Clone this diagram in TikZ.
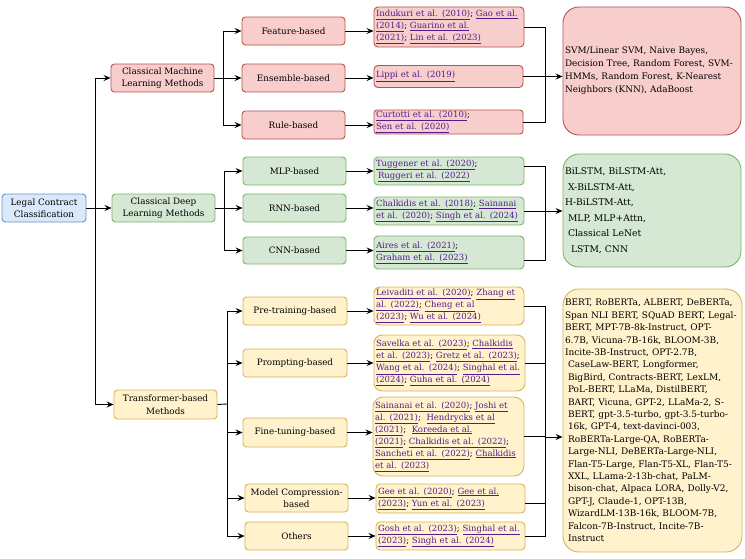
\documentclass[tikz,border=0pt]{standalone}
\usepackage{fontspec}
\setmainfont{DejaVu Serif}
\usetikzlibrary{arrows.meta}
\definecolor{redf}{HTML}{F8CECC}\definecolor{redd}{HTML}{B85450}
\definecolor{grnf}{HTML}{D5E8D4}\definecolor{grnd}{HTML}{82B366}
\definecolor{yelf}{HTML}{FFF2CC}\definecolor{yeld}{HTML}{D6B656}
\definecolor{bluf}{HTML}{DAE8FC}\definecolor{blud}{HTML}{6C8EBF}
\definecolor{linkc}{HTML}{551A8B}
\newcommand\lk[1]{\textcolor{linkc}{\underline{#1}}}
\newcommand\rl[1]{\mbox{#1}}
\begin{document}
\begin{tikzpicture}[x=1pt,y=-1pt,
  box/.style={draw, rounded corners=3.5pt, line width=0.9pt, align=center, inner sep=1pt,
    minimum width=103, minimum height=28, font=\fontsize{8.8}{12.5}\selectfont},
  redb/.style={box, fill=redf, draw=redd},
  grnb/.style={box, fill=grnf, draw=grnd},
  yelb/.style={box, fill=yelf, draw=yeld},
  blub/.style={box, fill=bluf, draw=blud},
  cite/.style={draw, rounded corners=4pt, line width=0.9pt, align=left, inner xsep=2pt, inner ysep=0pt,
    font=\fontsize{8.5}{12}\selectfont},
  bigb/.style={draw, rounded corners=16pt, line width=0.9pt, align=left, inner xsep=2pt, inner ysep=0pt,
    text width=174},
  lin/.style={line width=0.9pt},
  arr/.style={line width=0.9pt, -{Stealth[length=7pt,width=6pt,inset=2.5pt]}}]
\path[use as bounding box, fill=white] (0,0) rectangle (745,558);

% level 0 / 1
\node[blub, minimum width=84] (root) at (44,208) {Legal Contract\\Classification};
\node[redb] (ml) at (162.5,78) {Classical Machine\\Learning Methods};
\node[grnb] (dl) at (163.5,208) {Classical Deep\\Learning Methods};
\node[yelb, minimum height=29] (tf) at (165.5,404.5) {Transformer-based\\Methods};

% level 2
\node[redb] (feat) at (293.5,31) {Feature-based};
\node[redb] (ens) at (293.5,78) {Ensemble-based};
\node[redb] (rule) at (293.5,125) {Rule-based};
\node[grnb] (mlp) at (294.5,171) {MLP-based};
\node[grnb] (rnn) at (294.5,208) {RNN-based};
\node[grnb, minimum height=27] (cnn) at (294.5,250.5) {CNN-based};
\node[yelb, minimum width=104] (pre) at (295,311) {Pre-training-based};
\node[yelb, minimum width=104] (prm) at (295,363) {Prompting-based};
\node[yelb, minimum width=104, minimum height=29] (fine) at (295,432.5) {Fine-tuning-based};
\node[yelb] (comp) at (296.5,498) {Model Compression-\\based};
\node[yelb] (oth) at (296.5,536) {Others};

% citations
\node[cite, fill=redf, draw=redd, text width=146, minimum height=40] (featc) at (449,27)
  {\rl{\lk{Indukuri et al. (2010)}; \lk{Gao et al.}}\\\rl{\lk{(2014)}; \lk{Guarino et al.}}\\\rl{\lk{(2021)}; \lk{Lin et al. (2023)}}};
\node[cite, fill=redf, draw=redd, text width=145, minimum height=22] (ensc) at (448.5,76.5)
  {\rl{\lk{Lippi et al. (2019)}}};
\node[cite, fill=redf, draw=redd, text width=145, minimum height=24, rounded corners=3pt] (rulec) at (448.5,122)
  {\rl{\lk{Curtotti et al. (2010)};}\\\rl{\lk{Sen et al. (2020)}}};
\node[cite, fill=grnf, draw=grnd, text width=146, minimum height=28] (mlpc) at (449,171)
  {\rl{\lk{Tuggener et al. (2020)};}\\\rl{\hspace{2pt}\lk{Ruggeri et al. (2022)}}};
\node[cite, fill=grnf, draw=grnd, text width=146, minimum height=28] (rnnc) at (449,211)
  {\rl{\lk{Chalkidis et al. (2018)}; \lk{Sainanai}}\\\rl{\lk{et al. (2020)}; \lk{Singh et al. (2024)}}};
\node[cite, fill=grnf, draw=grnd, text width=146, minimum height=33] (cnnc) at (449,252.5)
  {\rl{\lk{Aires et al. (2021)};}\\\rl{\lk{Graham et al. (2023)}}};
\node[cite, fill=yelf, draw=yeld, text width=146, minimum height=38, rounded corners=6pt] (prec) at (449,306)
  {\rl{\lk{Leivaditi et al. (2020)}; \lk{Zhang et}}\\\rl{\lk{al. (2022)}; \lk{Cheng et al}}\\\rl{\lk{(2023)}; \lk{Wu et al. (2024)}}};
\node[cite, fill=yelf, draw=yeld, text width=147, minimum height=56, rounded corners=8pt] (prmc) at (449.5,363)
  {\rl{\lk{Savelka et al. (2023)}; \lk{Chalkidis}}\\\rl{\lk{et al. (2023)}; \lk{Gretz et al. (2023)};}\\\rl{\lk{Wang et al. (2024)}; \lk{Singhal et al.}}\\\rl{\lk{(2024)}; \lk{Guha et al. (2024)}}};
\node[cite, fill=yelf, draw=yeld, text width=147, minimum height=79, rounded corners=10pt] (finec) at (448.5,436.5)
  {\rl{\lk{Sainanai et al. (2020)}; \lk{Joshi et}}\\\rl{\lk{al. (2021)};\ \ \lk{Hendrycks et al}}\\\rl{\lk{(2021)};\ \ \lk{Koreeda et al.}}\\\rl{\lk{(2021)}; \lk{Chalkidis et al. (2022)};}\\\rl{\lk{Sancheti et al. (2022)}; \lk{Chalkidis}}\\\rl{\lk{et al. (2023)}}};
\node[cite, fill=yelf, draw=yeld, text width=145, minimum height=29] (compc) at (450.5,498.5)
  {\rl{\lk{Gee et al. (2020)}; \lk{Gee et al.}}\\\rl{\lk{(2023)}; \lk{Yun et al. (2023)}}};
\node[cite, fill=yelf, draw=yeld, text width=145, minimum height=28] (othc) at (450.5,536)
  {\rl{\lk{Gosh et al. (2023)}; \lk{Singhal et al.}}\\\rl{\lk{(2023)}; \lk{Singh et al. (2024)}}};

% method lists
\node[bigb, fill=redf, draw=redd, minimum height=128, font=\fontsize{8.9}{13}\selectfont] (mlr) at (652,71)
  {\rl{SVM/Linear SVM, Naive Bayes,}\\\rl{Decision Tree, Random Forest, SVM-}\\\rl{HMMs, Random Forest, K-Nearest}\\\rl{Neighbors (KNN), AdaBoost}};
\node[bigb, fill=grnf, draw=grnd, minimum height=113, font=\fontsize{9.2}{15.5}\selectfont] (dlr) at (652,210.5)
  {\rl{BiLSTM, BiLSTM-Att,}\\\rl{\hspace{3pt}X-BiLSTM-Att,}\\\rl{H-BiLSTM-Att,}\\\rl{\hspace{3pt}MLP, MLP+Attn,}\\\rl{\hspace{3pt}Classical LeNet}\\\rl{\hspace{6pt}LSTM, CNN}};
\node[bigb, fill=yelf, draw=yeld, minimum height=263, text width=175, font=\fontsize{9.0}{12.4}\selectfont] (tfr) at (652.5,420.5)
  {\rl{BERT, RoBERTa, ALBERT, DeBERTa,}\\\rl{Span NLI BERT, SQuAD BERT, Legal-}\\\rl{BERT, MPT-7B-8k-Instruct, OPT-}\\\rl{6.7B, Vicuna-7B-16k, BLOOM-3B,}\\\rl{Incite-3B-Instruct, OPT-2.7B,}\\
   \rl{\hspace{3pt}CaseLaw-BERT, Longformer,}\\\rl{\hspace{3pt}BigBird, Contracts-BERT, LexLM,}\\\rl{\hspace{3pt}PoL-BERT, LLaMa, DistilBERT,}\\\rl{\hspace{3pt}BART, Vicuna, GPT-2, LLaMa-2, S-}\\\rl{\hspace{3pt}BERT, gpt-3.5-turbo, gpt-3.5-turbo-}\\
   \rl{\hspace{3pt}16k, GPT-4, text-davinci-003,}\\\rl{\hspace{3pt}RoBERTa-Large-QA, RoBERTa-}\\\rl{\hspace{3pt}Large-NLI, DeBERTa-Large-NLI,}\\\rl{\hspace{3pt}Flan-T5-Large, Flan-T5-XL, Flan-T5-}\\\rl{\hspace{3pt}XXL, LLama-2-13b-chat, PaLM-}\\
   \rl{\hspace{3pt}bison-chat, Alpaca LORA, Dolly-V2,}\\\rl{\hspace{3pt}GPT-J, Claude-1, OPT-13B,}\\\rl{\hspace{3pt}WizardLM-13B-16k, BLOOM-7B,}\\\rl{\hspace{3pt}Falcon-7B-Instruct, Incite-7B-}\\\rl{\hspace{3pt}Instruct}};

% trunk
\coordinate (trk) at (95,208);
\draw[arr] (root.east) -- (dl.west);
\draw[arr] (trk) |- (ml.west);
\draw[arr] (trk) |- (tf.west);

% branches
\coordinate (mlb) at (223,78);
\draw[lin] (ml.east) -- (mlb);
\draw[arr] (mlb) |- (feat.west);
\draw[arr] (mlb) -- (ens.west);
\draw[arr] (mlb) |- (rule.west);
\coordinate (dlb) at (224,208);
\draw[lin] (dl.east) -- (dlb);
\draw[arr] (dlb) |- (mlp.west);
\draw[arr] (dlb) -- (rnn.west);
\draw[arr] (dlb) |- (cnn.west);
\coordinate (tfb) at (227,404);
\draw[lin] (tf.east) -- (tfb);
\foreach \n in {pre,prm,fine,comp,oth} \draw[arr] (tfb) |- (\n.west);

% to citations
\foreach \a/\b in {feat/featc,ens/ensc,rule/rulec,mlp/mlpc,rnn/rnnc,cnn/cnnc,pre/prec,prm/prmc,fine/finec,comp/compc,oth/othc}
  \draw[arr] (\a.east) -- (\a.east -| \b.west);

% citations to method lists
\coordinate (mlj) at (545,76.5);
\draw[lin] (featc.east) -| (mlj);
\draw[lin] (rulec.east) -| (mlj);
\draw[lin] (ensc.east) -- (mlj);
\draw[arr] (mlj) -- (mlj -| mlr.west);
\coordinate (dlj) at (545,211);
\draw[lin] ([yshift=5pt]mlpc.east) -| (dlj);
\draw[lin] ([yshift=-7.5pt]cnnc.east) -| (dlj);
\draw[lin] (rnnc.east) -- (dlj);
\draw[arr] (dlj) -- (dlj -| dlr.west);
\coordinate (tfj) at (545,437);
\draw[lin] (prec.east) -| (tfj);
\draw[lin] (prmc.east) -| (tfj);
\draw[lin] ([yshift=-4.5pt]compc.east) -| (tfj);
\draw[lin] (othc.east) -| (tfj);
\draw[lin] (finec.east) -- (finec.east -| tfj);
\draw[arr] (tfj) -- (tfj -| tfr.west);
\end{tikzpicture}
\end{document}
